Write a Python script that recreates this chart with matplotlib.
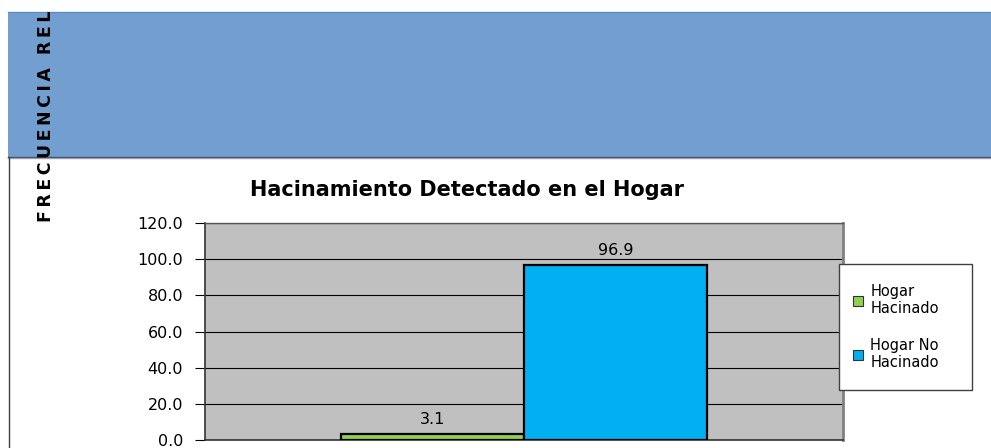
import matplotlib
matplotlib.use('Agg')
import matplotlib.pyplot as plt
from matplotlib.patches import Rectangle, Patch
from matplotlib.lines import Line2D

# ---- data ----
series = ['Hogar Hacinado', 'Hogar No Hacinado']
legend_labels = ['Hogar\nHacinado', 'Hogar No\nHacinado']
values = [3.1, 96.9]
colors = ['#92D050', '#00B0F0']
yticks = [0, 20, 40, 60, 80, 100, 120]
ytick_labels = ['0.0', '20.0', '40.0', '60.0', '80.0', '100.0', '120.0']
title = 'Hacinamiento Detectado en el Hogar'
side_words = ['FRECUENCIA', 'REL']

plt.rcParams['font.family'] = ['DejaVu Sans']

W, H = 991, 448
fig = plt.figure(figsize=(W / 100, H / 100), dpi=100)
fig.patch.set_facecolor('white')


def fx(px):
    return px / W


def fy(py):
    return 1 - py / H


# blue header band
fig.patches.append(Rectangle((fx(8), fy(157)), 1 - fx(8), (157 - 12) / H,
                             transform=fig.transFigure, facecolor='#729FCF',
                             edgecolor='none', zorder=0))
fig.add_artist(Line2D([fx(8), 1], [fy(12.5)] * 2, color='#5E8CC0', lw=1))
fig.add_artist(Line2D([fx(8), 1], [fy(157)] * 2, color='#2B4A6B', lw=1))
fig.add_artist(Line2D([fx(8), 1], [fy(158.5)] * 2, color='#A0A0A0', lw=1))
fig.add_artist(Line2D([fx(8.5)] * 2, [fy(157), 0], color='#404040', lw=1))

# side vertical label (letter-spaced)
thin = '\u2009'
side_label = (thin + ' ' + thin).join(thin.join(w) for w in side_words)
fig.text(fx(46), fy(222), side_label, rotation=90, rotation_mode='anchor',
         ha='left', va='center', fontweight='bold', fontsize=12.5, color='black')

# title
fig.text(fx(467), fy(190), title, ha='center', va='center',
         fontweight='bold', fontsize=15, color='black')

# axes
ax = fig.add_axes([fx(205), fy(440), (843 - 205) / W, (440 - 223) / H])
ax.set_facecolor('#C0C0C0')
bw = 183 / 638
xs = [-bw / 2, bw / 2]
bars = ax.bar(xs, values, width=bw, color=colors, edgecolor='black',
              linewidth=1.6, zorder=3)
ax.bar_label(bars, labels=[f'{v:.1f}' for v in values], padding=5,
             fontsize=11.5, color='black')
ax.set_xlim(-0.5, 0.5)
ax.set_ylim(0, 120)
ax.set_yticks(yticks)
ax.set_yticklabels(ytick_labels, fontsize=11.5)
ax.set_xticks([])
ax.yaxis.grid(True, color='black', lw=0.8)
ax.set_axisbelow(True)
ax.tick_params(axis='y', direction='out', length=7.2, width=0.8, color='black', pad=8.5)
for s in ['left', 'bottom']:
    ax.spines[s].set_color('#333333')
    ax.spines[s].set_linewidth(1.2)
ax.spines['top'].set_color('#555555')
ax.spines['top'].set_linewidth(1.0)
ax.spines['right'].set_color('#808080')
ax.spines['right'].set_linewidth(2.0)

# legend frame + legend
fig.patches.append(Rectangle((fx(839), fy(390)), (972 - 839) / W, (390 - 264) / H,
                             transform=fig.transFigure, facecolor='white',
                             edgecolor='#404040', linewidth=1.0, zorder=5))
handles = [Patch(facecolor=c, edgecolor='#333333', linewidth=0.8) for c in colors]
leg = fig.legend(handles, legend_labels, loc='upper left',
                 bbox_to_anchor=(fx(853), fy(284)), bbox_transform=fig.transFigure,
                 frameon=False, fontsize=10.5, handlelength=0.7, handleheight=0.7,
                 handletextpad=0.5, labelspacing=1.45, borderpad=0, borderaxespad=0)
leg.set_zorder(6)

fig.savefig('out.png', dpi=100)
